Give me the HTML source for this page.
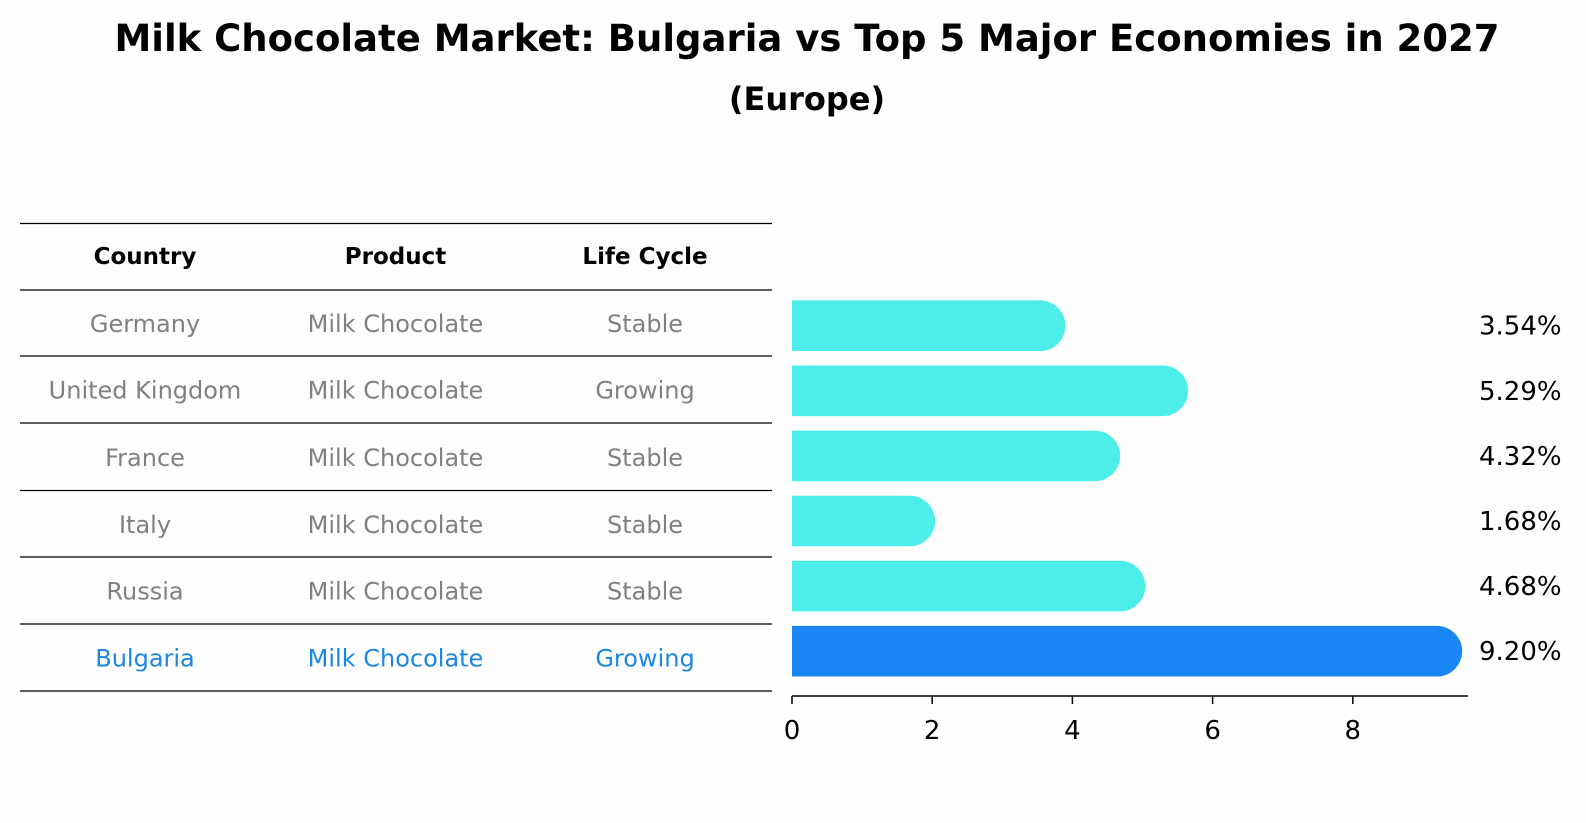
<!DOCTYPE html>
<html><head><meta charset="utf-8"><style>
body{margin:0;background:#fff;font-family:"DejaVu Sans","Liberation Sans",sans-serif;}
#wrap{position:relative;width:1586px;height:823px;overflow:hidden;background:#fefefe;}
</style></head><body>
<div id="wrap">
<svg id="svg" width="1586" height="823" style="position:absolute;left:0;top:0" font-family="DejaVu Sans, Liberation Sans, sans-serif">
<text x="807" y="51" text-anchor="middle" font-size="37" font-weight="bold">Milk Chocolate Market: Bulgaria vs Top 5 Major Economies in 2027</text>
<text x="807" y="110" text-anchor="middle" font-size="32" font-weight="bold">(Europe)</text>
</svg>
</div>
<script>
const countries=["Germany","United Kingdom","France","Italy","Russia","Bulgaria"];
const products=["Milk Chocolate","Milk Chocolate","Milk Chocolate","Milk Chocolate","Milk Chocolate","Milk Chocolate"];
const lifecycles=["Stable","Growing","Stable","Stable","Stable","Growing"];
const values=[3.54,5.29,4.32,1.68,4.68,9.20];
const ticks=[0,2,4,6,8];
const NS="http://www.w3.org/2000/svg";
const svg=document.getElementById('svg');
function mk(tag,attrs,txt){const e=document.createElementNS(NS,tag);for(const k in attrs)e.setAttribute(k,attrs[k]);if(txt!==undefined)e.textContent=txt;svg.appendChild(e);return e;}
const x0=792,ppu=70.1;
const xs=v=>x0+v*ppu;
const rowY=i=>325.7+i*65.1;
const lineYs=[223.5,290,356,423,490.5,557,624,691];
const colX=[145,395.5,645];
lineYs.forEach((y)=>{const l=mk('line',{x1:20,x2:772,y1:y,y2:y,stroke:'#000','stroke-width':1.2});

});
["Country","Product","Life Cycle"].forEach((h,j)=>{const t=mk('text',{x:colX[j],y:264,'text-anchor':'middle','font-size':23,'font-weight':'bold'},h);

});
countries.forEach((c,i)=>{
 const last=i===countries.length-1;const col=last?'#1a86e8':'#808080';
 const y=(lineYs[i+1]+lineYs[i+2])/2+9;
 [c,products[i],lifecycles[i]].forEach((v,j)=>{const t=mk('text',{x:colX[j],y:y,'text-anchor':'middle','font-size':24,fill:col},v);
 
 });
 const cy=rowY(i),h=50.6,r=25.3,xe=xs(values[i]);
 const p=mk('path',{d:`M${x0},${cy-h/2} H${xe} A${r},${r} 0 0 1 ${xe},${cy+h/2} H${x0} Z`,fill:last?'#1a86f4':'#4deee9'});
 
 
 const lb=mk('text',{x:1479,y:cy+9,'font-size':26,fill:'#000'},values[i].toFixed(2)+'%');
 
 
});
const ax=mk('line',{x1:x0,x2:1468,y1:696,y2:696,stroke:'#000','stroke-width':1.5});


ticks.forEach(v=>{const tk=mk('line',{x1:xs(v),x2:xs(v),y1:696,y2:704,stroke:'#000','stroke-width':1.5});


const tl=mk('text',{x:xs(v),y:739,'text-anchor':'middle','font-size':26},String(v));

});
</script>
</body></html>
